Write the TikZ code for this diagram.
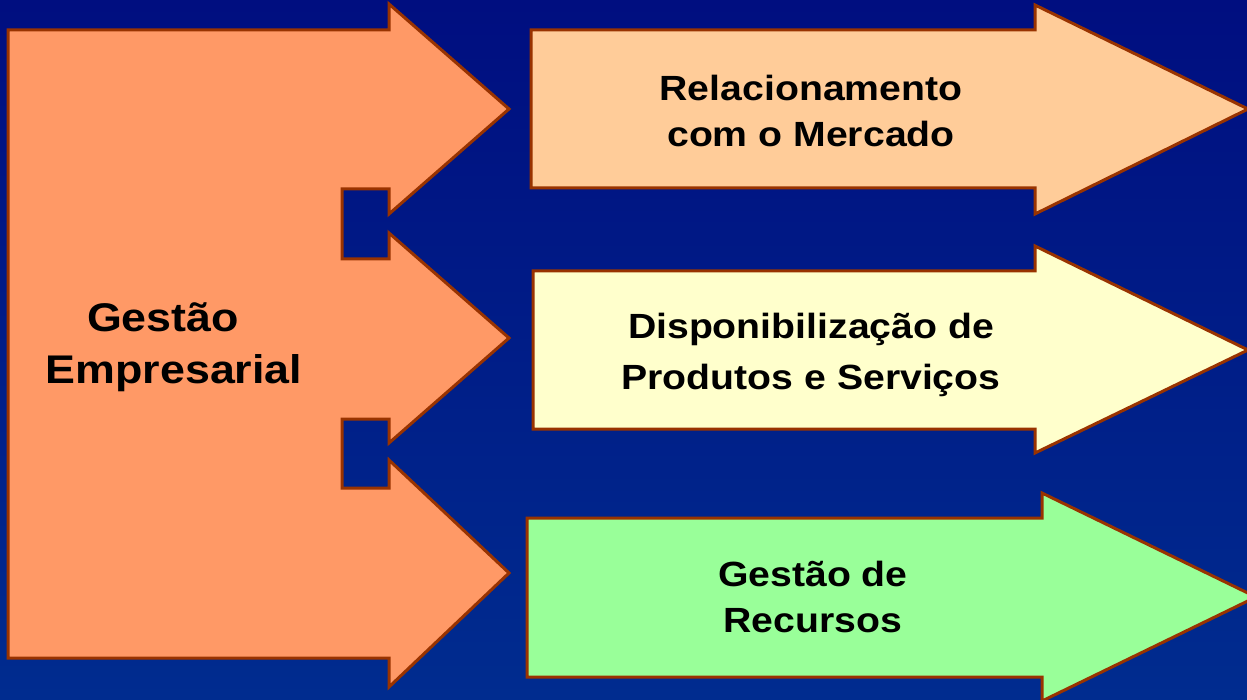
\documentclass[tikz,border=0pt]{standalone}
\usepackage{fontspec}
\setmainfont{Liberation Sans}[FakeStretch=1.12]
\definecolor{navytop}{RGB}{0,14,128}
\definecolor{navybot}{RGB}{0,44,143}
\definecolor{brownline}{RGB}{153,51,0}
\definecolor{orangemain}{RGB}{255,153,102}
\definecolor{peach}{RGB}{255,204,153}
\definecolor{paleyellow}{RGB}{255,255,204}
\definecolor{palegreen}{RGB}{153,255,153}
\tikzset{
	brd/.style={draw=brownline, line width=3pt, line join=miter},
	lbl/.style={align=center, anchor=base, font=\bfseries\fontsize{35}{46}\selectfont, text=black}
}
\begin{document}
\begin{tikzpicture}[x=1pt, y=-1pt]
		\useasboundingbox (0, 0) rectangle (1247, 700);
		\clip (0, 0) rectangle (1247, 700);
		\shade[top color=navytop, bottom color=navybot] (0, 0) rectangle (1247, 700);

		% left block with three heads
		\draw[brd, fill=orangemain] (8, 30) -- (389, 30) -- (389, 4) -- (509, 109) -- (389, 214) -- (389, 189)
			-- (342, 189) -- (342, 259) -- (389, 259) -- (389, 233) -- (509, 338) -- (389, 443) -- (389, 419)
			-- (342, 419) -- (342, 488) -- (389, 488) -- (389, 460) -- (509, 573) -- (389, 687) -- (389, 658)
			-- (8, 658) -- cycle;

		% right arrows
		\draw[brd, fill=peach] (531, 30) -- (1035, 30) -- (1035, 5) -- (1248, 109) -- (1035, 214) -- (1035, 188) -- (531, 188) -- cycle;
		\draw[brd, fill=paleyellow] (533, 271) -- (1035, 271) -- (1035, 246) -- (1248, 350) -- (1035, 453) -- (1035, 429) -- (533, 429) -- cycle;
		\draw[brd, fill=palegreen] (527, 518) -- (1042, 518) -- (1042, 493) -- (1256, 597) -- (1042, 701) -- (1042, 677) -- (527, 677) -- cycle;

		\node[lbl, font=\bfseries\fontsize{40}{52}\selectfont] (gestaoemp) at (174, 384) {Gestão\hspace*{22pt}\\Empresarial};
		\node[lbl] (relac) at (811, 147) {Relacionamento\\com o Mercado};
		\node[lbl, font=\bfseries\fontsize{35}{51}\selectfont] (dispon) at (811, 389) {Disponibilização de\\Produtos e Serviços};
		\node[lbl] (gestrec) at (813, 632) {Gestão de\\Recursos};
\end{tikzpicture}
\end{document}
